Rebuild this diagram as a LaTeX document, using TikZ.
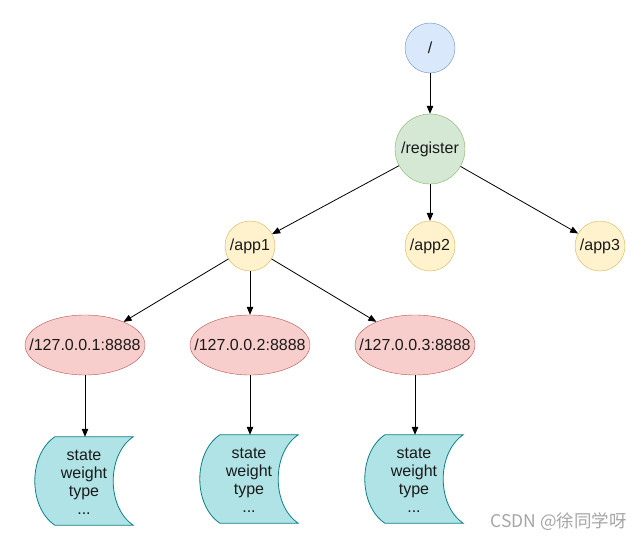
\documentclass[tikz,border=0pt]{standalone}
\usepackage{fontspec}
\setmainfont{Liberation Sans}
\newfontfamily\cjkfont{Noto Sans CJK SC}
\usetikzlibrary{arrows.meta,calc,shapes.geometric}
\definecolor{bfill}{HTML}{DAE8FC}\definecolor{bdraw}{HTML}{6C8EBF}
\definecolor{gfill}{HTML}{D5E8D4}\definecolor{gdraw}{HTML}{82B366}
\definecolor{yfill}{HTML}{FFF2CC}\definecolor{ydraw}{HTML}{D6B656}
\definecolor{rfill}{HTML}{F8CECC}\definecolor{rdraw}{HTML}{B85450}
\definecolor{cfill}{HTML}{B0E3E6}\definecolor{cdraw}{HTML}{0E8088}
\definecolor{txt}{HTML}{1A1A1A}
\begin{document}
\begin{tikzpicture}[x=1pt,y=-1pt,
  every node/.style={font=\fontsize{16pt}{18pt}\selectfont, text=txt, inner sep=0pt},
  every label/.style={font=\fontsize{16pt}{18pt}\selectfont, text=txt, inner sep=0pt},
  rootc/.style={circle, draw=bdraw, fill=bfill, minimum size=50pt},
  regc/.style={circle, draw=gdraw, fill=gfill, minimum size=70pt},
  appc/.style={circle, draw=ydraw, fill=yfill, minimum size=50pt},
  ipell/.style={ellipse, draw=rdraw, fill=rfill, minimum width=120pt, minimum height=60pt},
  storebox/.style={rectangle, minimum width=98pt, minimum height=88pt, align=center},
  storeshape/.style={draw=cdraw, fill=cfill, line width=0.8pt},
  conn/.style={-{Triangle[length=8pt,width=6.5pt]}, line width=0.8pt, black},
]
\useasboundingbox (0,0) rectangle (641,541);
\fill[white] (0,0) rectangle (641,541);

\node[rootc] (root) at (430,48) {/};
\node[regc] (reg) at (430,149) {/register};
\node[appc] (app1) at (250,246) {/app1};
\node[appc] (app2) at (430,246) {/app2};
\node[appc] (app3) at (600,246) {/app3};
\node[ipell, label=center:{/127.0.0.1:8888}] (ip1) at (85,345) {};
\node[ipell, label=center:{/127.0.0.2:8888}] (ip2) at (250,345) {};
\node[ipell, label=center:{/127.0.0.3:8888}] (ip3) at (415,345) {};

\node[storebox] (s1) at (84,481) {};
\node[storebox] (s2) at (249,479) {};
\node[storebox] (s3) at (414,479) {};
\foreach \n in {s1,s2,s3}{
  \path[storeshape]
    ($(\n.north west)+(20pt,0)$) -- (\n.north east)
    .. controls ($(\n.north east)+(-26.67pt,-18pt)$) and ($(\n.south east)+(-26.67pt,18pt)$) .. (\n.south east)
    -- ($(\n.south west)+(20pt,0)$)
    .. controls ($(\n.south west)+(-6.67pt,18pt)$) and ($(\n.north west)+(-6.67pt,-18pt)$) .. ($(\n.north west)+(20pt,0)$)
    -- cycle;
  \node[align=center] at ($(\n.center)+(0pt,-1pt)$) {state\\weight\\type\\...};
}

\draw[conn] (root) -- (reg);
\draw[conn] (reg) -- (app1);
\draw[conn] (reg) -- (app2);
\draw[conn] (reg) -- (app3);
\draw[conn] (app1) -- (ip1);
\draw[conn] (app1) -- (ip2);
\draw[conn] (app1) -- (ip3);
\draw[conn] (ip1) -- (ip1 |- s1.north);
\draw[conn] (ip2) -- (ip2 |- s2.north);
\draw[conn] (ip3) -- (ip3 |- s3.north);

\node[text=black!35, font=\cjkfont\fontsize{17.5pt}{20pt}\selectfont, anchor=east] (wm) at (627,522) {CSDN @徐同学呀};
\end{tikzpicture}
\end{document}
